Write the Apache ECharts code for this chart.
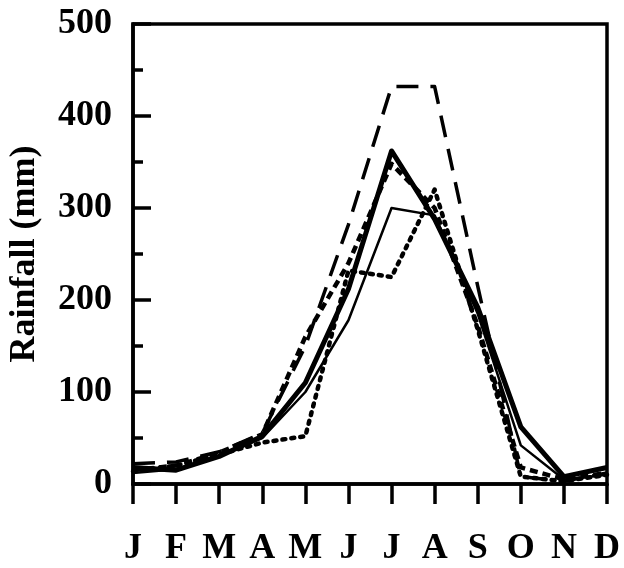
<!DOCTYPE html>
<html>
<head>
<meta charset="utf-8">
<script src="https://cdn.jsdelivr.net/npm/echarts@6/dist/echarts.min.js"></script>
<style>
  html, body { margin: 0; padding: 0; background: #fff; }
  #chart { width: 624px; height: 568px; }
</style>
</head>
<body>
<div id="chart"></div>
<script>
// Monthly rainfall (mm), January to December
const months = ['J', 'F', 'M', 'A', 'M', 'J', 'J', 'A', 'S', 'O', 'N', 'D'];
const thickSolid  = [18, 15, 30, 52, 110, 212, 362, 288, 192, 62, 8, 18];
const thinSolid   = [12, 16, 30, 50, 100, 178, 300, 292, 185, 42, 5, 10];
const longDash    = [22, 24, 35, 55, 150, 282, 432, 432, 215, 8, 3, 12];
const shortDash   = [15, 20, 34, 54, 160, 240, 348, 300, 172, 18, 5, 12];
const dotted      = [14, 20, 32, 45, 52, 232, 225, 320, 168, 8, 3, 10];
const yTicks = [0, 100, 200, 300, 400, 500];

const FONT = '"Liberation Serif", "Times New Roman", serif';

function line(data, width, type, cap) {
  return {
    type: 'line',
    data: data,
    symbol: 'none',
    smooth: false,
    lineStyle: { color: '#000', width: width, type: type, cap: cap || 'butt', join: 'round' },
    z: 3
  };
}

const chart = echarts.init(document.getElementById('chart'), null, { renderer: 'canvas' });
chart.setOption({
  animation: false,
  backgroundColor: '#fff',
  grid: {
    left: 133, right: 17, top: 24, bottom: 84,
    outerBoundsMode: 'none',
    containLabel: false,
    show: true, borderColor: '#000', borderWidth: 3.5, backgroundColor: 'transparent'
  },
  xAxis: {
    type: 'category',
    data: months,
    boundaryGap: false,
    axisLine: { lineStyle: { color: '#000', width: 3.5 } },
    axisTick: { show: true, inside: false, length: 20, lineStyle: { color: '#000', width: 3.5 } },
    axisLabel: {
      color: '#000', fontFamily: FONT, fontWeight: 'bold', fontSize: 36, margin: 47,
      interval: 0
    },
    splitLine: { show: false }
  },
  yAxis: {
    type: 'value',
    min: yTicks[0],
    max: yTicks[yTicks.length - 1],
    interval: 100,
    name: 'Rainfall (mm)',
    nameLocation: 'middle',
    nameGap: 90,
    nameTextStyle: { color: '#000', fontFamily: FONT, fontWeight: 'bold', fontSize: 36 },
    axisLine: { show: true, lineStyle: { color: '#000', width: 3.5 } },
    axisTick: { show: true, inside: true, length: 18, lineStyle: { color: '#000', width: 3.5 } },
    minorTick: { show: true, splitNumber: 2, length: 10, lineStyle: { color: '#000', width: 3.5 } },
    axisLabel: { color: '#000', fontFamily: FONT, fontWeight: 'bold', fontSize: 36, margin: 21 },
    splitLine: { show: false }
  },
  series: [
    line(longDash, 3.5, [22, 12]),
    line(shortDash, 4.5, [8, 5]),
    line(dotted, 4.5, [3, 6], 'round'),
    line(thinSolid, 2.5, 'solid'),
    line(thickSolid, 5, 'solid')
  ]
});
</script>
</body>
</html>
